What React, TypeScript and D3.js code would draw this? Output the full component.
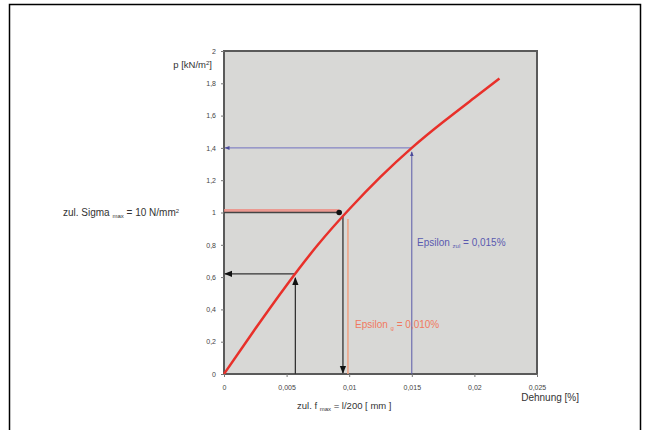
import React, { useEffect, useRef } from 'react'
import * as d3 from 'd3'

// stress-strain curve
const strain = [0, 0.0025, 0.005, 0.0075, 0.01, 0.0125, 0.015, 0.0175, 0.02, 0.022]
const load = [0, 0.28, 0.55, 0.8, 1.02, 1.22, 1.4, 1.56, 1.71, 1.83]
const xTicks = [0, 0.005, 0.01, 0.015, 0.02, 0.025]
const yTicks = [0, 0.2, 0.4, 0.6, 0.8, 1, 1.2, 1.4, 1.6, 1.8, 2]

// guide arrows: [strain, load]
const guideBlack = [0.0057, 0.62]
const guideSigma = [0.0092, 1.0]
const guideDown = [0.0095, 0.98]
const guideRed = [0.0099, 0.96]
const guideBlue = [0.015, 1.4]

const W = 649
const H = 430
const m = { left: 224, top: 51, right: 112, bottom: 56 }
const font = 'Liberation Sans, Arial, sans-serif'

const fmt = (d: number) => String(d).replace('.', ',')

const XAxis = ({ scale }: any) => {
    const ref = useRef<SVGGElement>(null)
    useEffect(() => {
        const g = d3.select(ref.current)
        g.call(d3.axisBottom(scale).tickValues(xTicks).tickFormat(fmt as any).tickSize(3).tickPadding(8))
        g.select('.domain').remove()
        g.selectAll('line').attr('stroke', '#777')
        g.selectAll('text').attr('fill', '#444').attr('font-size', 7).attr('font-family', font)
    })
    return <g ref={ref} transform={`translate(0, ${H - m.bottom})`} />
}

const YAxis = ({ scale }: any) => {
    const ref = useRef<SVGGElement>(null)
    useEffect(() => {
        const g = d3.select(ref.current)
        g.call(d3.axisLeft(scale).tickValues(yTicks).tickFormat(fmt as any).tickSize(3).tickPadding(5))
        g.select('.domain').remove()
        g.selectAll('line').attr('stroke', '#777')
        g.selectAll('text').attr('fill', '#444').attr('font-size', 7).attr('font-family', font)
    })
    return <g ref={ref} transform={`translate(${m.left}, 0)`} />
}

const App = () => {
    const x = d3.scaleLinear().domain([0, 0.025]).range([m.left, W - m.right])
    const y = d3.scaleLinear().domain([0, 2]).range([H - m.bottom, m.top])

    const line = d3
        .line<number>()
        .x((d, i) => x(strain[i]))
        .y(d => y(d))
        .curve(d3.curveNatural)

    const x0 = x(0)
    const y0 = y(0)

    return (
        <svg width={W} height={H} style={{ position: 'absolute', left: 0, top: 0 }}>
            <defs>
                <marker id='ab' viewBox='0 0 10 10' refX='9' refY='5' markerWidth='6' markerHeight='6' orient='auto-start-reverse'>
                    <path d='M0,1 L10,5 L0,9 z' fill='#111' />
                </marker>
                <marker id='au' viewBox='0 0 10 10' refX='9' refY='5' markerWidth='5' markerHeight='5' orient='auto-start-reverse'>
                    <path d='M0,1 L10,5 L0,9 z' fill='#4a4a9a' />
                </marker>
            </defs>
            <rect x={0} y={0} width={W} height={H} fill='#fff' />
            <rect x={9.5} y={4.5} width={631} height={440} fill='none' stroke='#000' strokeWidth={1.5} />

            <rect
                x={x0}
                y={y(2)}
                width={x(0.025) - x0}
                height={y0 - y(2)}
                fill='#d8d8d6'
                stroke='#5a5a5a'
                strokeWidth={2}
            />

            {/* blue guide */}
            <line x1={x(guideBlue[0])} y1={y0} x2={x(guideBlue[0])} y2={y(guideBlue[1]) + 4}
                stroke='#5a5aa8' strokeWidth={1} markerEnd='url(#au)' />
            <line x1={x(guideBlue[0])} y1={y(guideBlue[1])} x2={x0 + 1} y2={y(guideBlue[1])}
                stroke='#7070c0' strokeWidth={1} markerEnd='url(#au)' />

            {/* red / black guide at sigma */}
            <line x1={x0} y1={y(guideSigma[1]) - 2} x2={x(guideSigma[0])} y2={y(guideSigma[1]) - 2}
                stroke='#f08a80' strokeWidth={3} opacity={0.8} />
            <line x1={x0} y1={y(guideSigma[1])} x2={x(guideSigma[0])} y2={y(guideSigma[1])}
                stroke='#444' strokeWidth={1.5} />
            <circle cx={x(guideSigma[0])} cy={y(guideSigma[1])} r={2.8} fill='#111' />
            <line x1={x(guideDown[0])} y1={y(guideDown[1])} x2={x(guideDown[0])} y2={y0 - 1}
                stroke='#333' strokeWidth={1.3} markerEnd='url(#ab)' />
            <line x1={x(guideRed[0])} y1={y(guideRed[1])} x2={x(guideRed[0])} y2={y0}
                stroke='#f0a080' strokeWidth={1.5} />

            {/* black guide */}
            <line x1={x(guideBlack[0])} y1={y0} x2={x(guideBlack[0])} y2={y(guideBlack[1]) + 4}
                stroke='#333' strokeWidth={1.3} markerEnd='url(#ab)' />
            <line x1={x(guideBlack[0])} y1={y(guideBlack[1])} x2={x0 + 1} y2={y(guideBlack[1])}
                stroke='#333' strokeWidth={1.3} markerEnd='url(#ab)' />

            <path d={line(load) || ''} fill='none' stroke='#e8302a' strokeWidth={2.5} />

            <XAxis scale={x} />
            <YAxis scale={y} />

            <g fontFamily={font} fill='#333'>
                <text x={212} y={68} fontSize={9.5} textAnchor='end'>
                    p [kN/m<tspan fontSize={6} dy={-3}>2</tspan><tspan dy={3}>]</tspan>
                </text>
                <text x={63} y={216} fontSize={10}>
                    zul. Sigma <tspan fontSize={6} dy={2}>max</tspan><tspan dy={-2}> = 10 N/mm</tspan><tspan fontSize={6} dy={-3}>2</tspan>
                </text>
                <text x={297} y={409} fontSize={9.5}>
                    zul. f <tspan fontSize={6} dy={2}>max</tspan><tspan dy={-2}> = l/200 [ mm ]</tspan>
                </text>
                <text x={579} y={401} fontSize={10} textAnchor='end'>Dehnung [%]</text>
                <text x={355} y={328} fontSize={10} fill='#f07860'>
                    Epsilon <tspan fontSize={6} dy={2}>g</tspan><tspan dy={-2}> = 0,010%</tspan>
                </text>
                <text x={417} y={246} fontSize={10} fill='#5a5ab0'>
                    Epsilon <tspan fontSize={6} dy={2}>zul</tspan><tspan dy={-2}> = 0,015%</tspan>
                </text>
            </g>
        </svg>
    )
}

export default App
